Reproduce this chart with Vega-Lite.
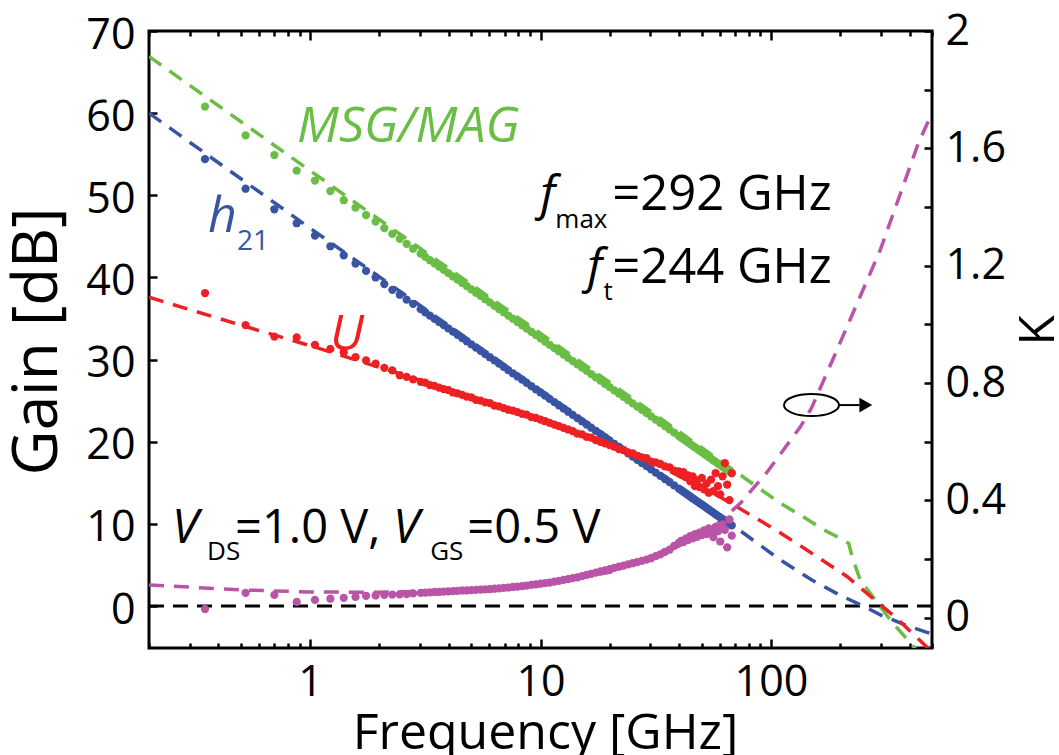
{
  "$schema": "https://vega.github.io/schema/vega-lite/v6.json",
  "width": 783,
  "height": 617,
  "autosize": {"type": "none"},
  "padding": {"left": 149, "top": 31, "right": 127, "bottom": 107},
  "background": "white",
  "config": {
    "view": {"stroke": "black", "strokeWidth": 3},
    "axis": {
      "domain": false, "grid": false,
      "labelFont": "Open Sans", "labelFontSize": 43, "labelColor": "black",
      "tickColor": "black", "tickWidth": 2.5,
      "titleFont": "Open Sans", "titleFontSize": 50, "titleFontWeight": "normal", "titleColor": "black",
      "labelOverlap": false, "labelBound": false, "labelFlush": false
    },
    "text": {"font": "Open Sans"}
  },
  "datasets": {
    "meas": [
      {"f":0.35,"msg":60.8,"h21":54.4,"u":38.1,"k":0.03},
      {"f":0.525,"msg":57.3,"h21":50.8,"u":34.2,"k":0.085},
      {"f":0.7,"msg":54.9,"h21":48.3,"u":32.8,"k":0.078},
      {"f":0.875,"msg":53.0,"h21":46.6,"u":32.7,"k":0.054},
      {"f":1.05,"msg":51.8,"h21":45.1,"u":31.8,"k":0.061},
      {"f":1.225,"msg":50.5,"h21":43.8,"u":31.3,"k":0.065},
      {"f":1.4,"msg":49.4,"h21":42.7,"u":30.9,"k":0.068},
      {"f":1.575,"msg":48.5,"h21":41.7,"u":30.3,"k":0.071},
      {"f":1.75,"msg":47.6,"h21":40.8,"u":29.9,"k":0.075},
      {"f":1.925,"msg":46.8,"h21":40.0,"u":29.5,"k":0.076},
      {"f":2.1,"msg":46.0,"h21":39.2,"u":29.0,"k":0.078},
      {"f":2.275,"msg":45.3,"h21":38.5,"u":28.7,"k":0.079},
      {"f":2.45,"msg":44.7,"h21":37.9,"u":28.1,"k":0.080},
      {"f":2.625,"msg":44.1,"h21":37.3,"u":27.9,"k":0.081},
      {"f":2.8,"msg":43.5,"h21":36.8,"u":27.6,"k":0.083},
      {"f":3.02,"msg":42.9,"h21":36.14,"u":27.3,"k":0.085},
      {"f":3.162,"msg":42.5,"h21":35.75,"u":27.2,"k":0.086},
      {"f":3.311,"msg":42.1,"h21":35.36,"u":26.9,"k":0.087},
      {"f":3.467,"msg":41.71,"h21":34.97,"u":26.8,"k":0.088},
      {"f":3.631,"msg":41.31,"h21":34.58,"u":26.6,"k":0.088},
      {"f":3.802,"msg":40.92,"h21":34.19,"u":26.4,"k":0.089},
      {"f":3.981,"msg":40.52,"h21":33.8,"u":26.3,"k":0.090},
      {"f":4.169,"msg":40.12,"h21":33.41,"u":26.0,"k":0.091},
      {"f":4.365,"msg":39.73,"h21":33.02,"u":25.9,"k":0.092},
      {"f":4.571,"msg":39.33,"h21":32.63,"u":25.7,"k":0.093},
      {"f":4.786,"msg":38.94,"h21":32.24,"u":25.5,"k":0.093},
      {"f":5.012,"msg":38.54,"h21":31.85,"u":25.4,"k":0.094},
      {"f":5.248,"msg":38.14,"h21":31.46,"u":25.1,"k":0.095},
      {"f":5.495,"msg":37.75,"h21":31.07,"u":25.0,"k":0.096},
      {"f":5.754,"msg":37.35,"h21":30.68,"u":24.8,"k":0.097},
      {"f":6.026,"msg":36.96,"h21":30.29,"u":24.7,"k":0.098},
      {"f":6.31,"msg":36.56,"h21":29.9,"u":24.4,"k":0.099},
      {"f":6.607,"msg":36.16,"h21":29.51,"u":24.3,"k":0.100},
      {"f":6.918,"msg":35.77,"h21":29.12,"u":24.1,"k":0.102},
      {"f":7.244,"msg":35.37,"h21":28.73,"u":23.9,"k":0.103},
      {"f":7.586,"msg":34.98,"h21":28.34,"u":23.8,"k":0.105},
      {"f":7.943,"msg":34.58,"h21":27.95,"u":23.6,"k":0.106},
      {"f":8.318,"msg":34.18,"h21":27.56,"u":23.4,"k":0.108},
      {"f":8.71,"msg":33.79,"h21":27.17,"u":23.3,"k":0.110},
      {"f":9.12,"msg":33.39,"h21":26.78,"u":23.0,"k":0.112},
      {"f":9.55,"msg":33.0,"h21":26.39,"u":22.9,"k":0.114},
      {"f":10.0,"msg":32.6,"h21":26.0,"u":22.7,"k":0.116},
      {"f":10.47,"msg":32.2,"h21":25.61,"u":22.5,"k":0.118},
      {"f":10.96,"msg":31.81,"h21":25.22,"u":22.3,"k":0.120},
      {"f":11.48,"msg":31.41,"h21":24.83,"u":22.1,"k":0.123},
      {"f":12.02,"msg":31.02,"h21":24.44,"u":21.9,"k":0.126},
      {"f":12.59,"msg":30.62,"h21":24.05,"u":21.7,"k":0.129},
      {"f":13.18,"msg":30.22,"h21":23.66,"u":21.5,"k":0.132},
      {"f":13.8,"msg":29.83,"h21":23.27,"u":21.3,"k":0.135},
      {"f":14.45,"msg":29.43,"h21":22.88,"u":21.0,"k":0.138},
      {"f":15.14,"msg":29.04,"h21":22.49,"u":20.9,"k":0.142},
      {"f":15.85,"msg":28.64,"h21":22.1,"u":20.6,"k":0.146},
      {"f":16.6,"msg":28.24,"h21":21.71,"u":20.5,"k":0.150},
      {"f":17.38,"msg":27.85,"h21":21.32,"u":20.2,"k":0.154},
      {"f":18.2,"msg":27.45,"h21":20.93,"u":20.0,"k":0.158},
      {"f":19.05,"msg":27.06,"h21":20.54,"u":19.8,"k":0.162},
      {"f":19.95,"msg":26.66,"h21":20.15,"u":19.6,"k":0.166},
      {"f":20.89,"msg":26.26,"h21":19.76,"u":19.4,"k":0.170},
      {"f":21.88,"msg":25.87,"h21":19.37,"u":19.1,"k":0.174},
      {"f":22.91,"msg":25.47,"h21":18.98,"u":19.0,"k":0.178},
      {"f":23.99,"msg":25.08,"h21":18.59,"u":18.7,"k":0.182},
      {"f":25.12,"msg":24.68,"h21":18.2,"u":18.6,"k":0.186},
      {"f":26.3,"msg":24.28,"h21":17.81,"u":18.3,"k":0.190},
      {"f":27.54,"msg":23.89,"h21":17.42,"u":18.1,"k":0.194},
      {"f":28.84,"msg":23.49,"h21":17.03,"u":18.0,"k":0.198},
      {"f":30.2,"msg":23.1,"h21":16.64,"u":17.6,"k":0.203},
      {"f":31.62,"msg":22.7,"h21":16.25,"u":17.5,"k":0.210},
      {"f":33.11,"msg":22.3,"h21":15.86,"u":17.3,"k":0.216},
      {"f":34.67,"msg":21.91,"h21":15.47,"u":17.0,"k":0.225},
      {"f":36.31,"msg":21.51,"h21":15.08,"u":16.9,"k":0.232},
      {"f":38.02,"msg":21.12,"h21":14.69,"u":16.5,"k":0.245},
      {"f":39.81,"msg":20.72,"h21":14.3,"u":16.4,"k":0.255},
      {"f":40.74,"msg":20.52,"h21":14.11,"u":16.0,"k":0.262},
      {"f":41.69,"msg":20.32,"h21":13.91,"u":16.3,"k":0.258},
      {"f":42.66,"msg":20.13,"h21":13.72,"u":15.7,"k":0.270},
      {"f":43.65,"msg":19.93,"h21":13.52,"u":15.9,"k":0.265},
      {"f":44.67,"msg":19.73,"h21":13.33,"u":15.2,"k":0.278},
      {"f":45.71,"msg":19.53,"h21":13.13,"u":15.8,"k":0.271},
      {"f":46.77,"msg":19.33,"h21":12.94,"u":14.6,"k":0.285},
      {"f":47.86,"msg":19.14,"h21":12.74,"u":15.3,"k":0.276},
      {"f":48.98,"msg":18.94,"h21":12.55,"u":14.5,"k":0.290},
      {"f":50.12,"msg":18.74,"h21":12.35,"u":15.6,"k":0.282},
      {"f":51.29,"msg":18.54,"h21":12.16,"u":14.2,"k":0.298},
      {"f":52.48,"msg":18.34,"h21":11.96,"u":14.9,"k":0.285},
      {"f":53.7,"msg":18.15,"h21":11.77,"u":13.8,"k":0.305},
      {"f":54.95,"msg":17.95,"h21":11.57,"u":15.4,"k":0.292},
      {"f":56.23,"msg":17.75,"h21":11.38,"u":14.0,"k":0.275},
      {"f":57.54,"msg":17.55,"h21":11.18,"u":16.2,"k":0.310},
      {"f":58.88,"msg":17.35,"h21":10.99,"u":14.6,"k":0.295},
      {"f":60.26,"msg":17.16,"h21":10.79,"u":13.6,"k":0.260},
      {"f":61.66,"msg":16.96,"h21":10.6,"u":15.8,"k":0.318},
      {"f":63.1,"msg":16.76,"h21":10.4,"u":17.4,"k":0.300},
      {"f":64.57,"msg":16.56,"h21":10.21,"u":14.8,"k":0.240},
      {"f":66.07,"msg":16.36,"h21":10.01,"u":12.9,"k":0.335},
      {"f":67.61,"msg":16.17,"h21":9.82,"u":16.2,"k":0.280}
    ],
    "fitg": [
      {"s":"msg","f":0.2,"g":66.9},{"s":"msg","f":1,"g":53.0},{"s":"msg","f":10,"g":33.2},{"s":"msg","f":50,"g":19.3},{"s":"msg","f":110,"g":12.5},{"s":"msg","f":134,"g":11.1},{"s":"msg","f":169,"g":9.3},{"s":"msg","f":200,"g":8.25},{"s":"msg","f":217.6,"g":7.64},{"s":"msg","f":225.6,"g":5.85},{"s":"msg","f":244.4,"g":3.17},{"s":"msg","f":329.8,"g":-1.7},{"s":"msg","f":402.9,"g":-4.5},{"s":"msg","f":427.8,"g":-5.36},
      {"s":"h21","f":0.2,"g":60},{"s":"h21","f":1,"g":46.0},{"s":"h21","f":10,"g":26.3},{"s":"h21","f":50,"g":12.7},{"s":"h21","f":75.9,"g":8.9},{"s":"h21","f":110,"g":5.6},{"s":"h21","f":150,"g":3.2},{"s":"h21","f":200,"g":1.3},{"s":"h21","f":252,"g":0},{"s":"h21","f":300,"g":-1.1},{"s":"h21","f":400,"g":-2.5},{"s":"h21","f":500,"g":-3.4},
      {"s":"u","f":0.2,"g":37.6},{"s":"u","f":0.5,"g":34.2},{"s":"u","f":1,"g":31.7},{"s":"u","f":3,"g":27.5},{"s":"u","f":10,"g":22.8},{"s":"u","f":30,"g":17.6},{"s":"u","f":60,"g":13.3},{"s":"u","f":85,"g":10.8},{"s":"u","f":110,"g":8.9},{"s":"u","f":153,"g":6.3},{"s":"u","f":214,"g":3.6},{"s":"u","f":292,"g":0.4},{"s":"u","f":352,"g":-1.5},{"s":"u","f":476,"g":-5.0},{"s":"u","f":500,"g":-5.5}
    ],
    "fitk": [
      {"f":0.2,"k":0.112},{"f":0.5,"k":0.095},{"f":1,"k":0.088},{"f":2,"k":0.087},{"f":5,"k":0.095},{"f":10,"k":0.115},{"f":20,"k":0.155},{"f":40,"k":0.245},{"f":58.5,"k":0.32},{"f":73.6,"k":0.39},{"f":96.4,"k":0.497},{"f":134,"k":0.65},{"f":150,"k":0.715},{"f":185,"k":0.878},{"f":298,"k":1.253},{"f":436,"k":1.617},{"f":500,"k":1.72}
    ],
    "zero": [{"f":0.2,"g":0},{"f":500,"g":0}],
    "labBig": [
      {"t":"MSG/MAG","f":0.878,"g":56.5,"s":"msg"},
      {"t":"h","f":0.3605,"g":45.5,"s":"h21"},
      {"t":"U","f":1.221,"g":31.2,"s":"u"}
    ],
    "labSubCol": [{"t":"21","f":0.4817,"g":43.4,"s":"h21"}],
    "labIt": [
      {"t":"f","f":9.97,"g":48.2},
      {"t":"f","f":15.94,"g":39.3},
      {"t":"V","f":0.2515,"g":7.67},
      {"t":"V","f":2.293,"g":7.67}
    ],
    "labSub": [
      {"t":"max","f":11.6,"g":46.0},
      {"t":"t","f":18.75,"g":37.3},
      {"t":"DS","f":0.3571,"g":5.6},
      {"t":"GS","f":3.32,"g":5.6}
    ],
    "labFreq": [
      {"t":"=292 GHz","f":20.47,"g":48.2},
      {"t":"=244 GHz","f":20.47,"g":39.3}
    ],
    "labBias": [
      {"t":"=1.0 V,","f":0.4725,"g":7.67},
      {"t":"=0.5 V","f":4.81,"g":7.67}
    ],
    "ell": [{"f":150,"k":0.725}],
    "arr": [{"f":196,"f2":242,"k":0.725}],
    "head": [{"f":258,"k":0.725}]
  },
  "encoding": {
    "x": {"field": "f", "type": "quantitative", "scale": {"type": "log", "domain": [0.2, 500], "nice": false}, "axis": null}
  },
  "layer": [
    {
      "data": {"name": "zero"},
      "mark": {"type": "line", "color": "black", "strokeWidth": 3, "strokeDash": [15, 9], "clip": true},
      "encoding": {
        "y": {"field": "g", "type": "quantitative", "scale": {"domain": [-5.1, 70], "nice": false, "zero": false},
          "axis": {"orient": "left", "values": [0,10,20,30,40,50,60,70], "tickSize": -8, "labelPadding": 22, "labelOffset": 4,
            "title": "Gain [dB]", "titleFontSize": 62, "titleAngle": 270, "titleX": -93, "titleY": 310, "titleBaseline": "alphabetic", "titleAlign": "center"}}
      }
    },
    {
      "data": {"name": "fitg"},
      "mark": {"type": "line", "strokeWidth": 3.5, "strokeDash": [15, 10], "clip": true},
      "encoding": {
        "y": {"field": "g", "type": "quantitative", "scale": {"domain": [-5.1, 70], "nice": false, "zero": false}, "axis": null},
        "color": {"field": "s", "type": "nominal", "scale": {"domain": ["msg", "h21", "u"], "range": ["#6ABD45", "#3A54A4", "#EE2024"]}, "legend": null}
      }
    },
    {
      "data": {"name": "fitk"},
      "mark": {"type": "line", "strokeWidth": 3.5, "strokeDash": [15, 10], "color": "#B954A6", "clip": true},
      "encoding": {
        "y": {"field": "k", "type": "quantitative", "scale": {"domain": [-0.103, 2], "nice": false, "zero": false}, "axis": null}
      }
    },
    {
      "data": {"name": "meas"},
      "mark": {"type": "circle", "size": 68, "opacity": 1, "color": "#6ABD45"},
      "encoding": {
        "x": {"field": "f", "type": "quantitative", "scale": {"type": "log", "domain": [0.2, 500], "nice": false},
          "axis": {"orient": "bottom",
            "values": [0.2,0.3,0.4,0.5,0.6,0.7,0.8,0.9,1,2,3,4,5,6,7,8,9,10,20,30,40,50,60,70,80,90,100,200,300,400,500],
            "format": "~g",
            "labelExpr": "(datum.value == 1 || datum.value == 10 || datum.value == 100) ? datum.label : ''",
            "tickSize": {"condition": {"test": "datum.value == 1 || datum.value == 10 || datum.value == 100", "value": -9}, "value": -5},
            "labelPadding": 22, "labelBaseline": "top",
            "title": "Frequency [GHz]", "titleX": 396, "titleY": 100, "titleBaseline": "alphabetic"}},
        "y": {"field": "msg", "type": "quantitative", "scale": {"domain": [-5.1, 70], "nice": false, "zero": false}, "axis": null}
      }
    },
    {
      "data": {"name": "meas"},
      "mark": {"type": "circle", "size": 68, "opacity": 1, "color": "#3A54A4"},
      "encoding": {
        "x": {"field": "f", "type": "quantitative", "scale": {"type": "log", "domain": [0.2, 500], "nice": false},
          "axis": {"orient": "top",
            "values": [0.2,0.3,0.4,0.5,0.6,0.7,0.8,0.9,1,2,3,4,5,6,7,8,9,10,20,30,40,50,60,70,80,90,100,200,300,400,500],
            "labels": false, "title": null,
            "tickSize": {"condition": {"test": "datum.value == 1 || datum.value == 10 || datum.value == 100", "value": -9}, "value": -5}}},
        "y": {"field": "h21", "type": "quantitative", "scale": {"domain": [-5.1, 70], "nice": false, "zero": false}, "axis": null}
      }
    },
    {
      "data": {"name": "meas"},
      "mark": {"type": "circle", "size": 68, "opacity": 1, "color": "#EE2024"},
      "encoding": {
        "y": {"field": "u", "type": "quantitative", "scale": {"domain": [-5.1, 70], "nice": false, "zero": false}, "axis": null}
      }
    },
    {
      "data": {"name": "meas"},
      "mark": {"type": "circle", "size": 68, "opacity": 1, "color": "#B954A6"},
      "encoding": {
        "y": {"field": "k", "type": "quantitative", "scale": {"domain": [-0.103, 2], "nice": false, "zero": false},
          "axis": {"orient": "right", "values": [0,0.2,0.4,0.6,0.8,1,1.2,1.4,1.6,1.8,2], "format": ".1~f",
            "labelExpr": "round(datum.value * 10) % 4 == 0 ? datum.label : ''",
            "tickSize": -8, "labelPadding": 21,
            "title": "K", "titleAngle": 270, "titleX": 121, "titleY": 299, "titleBaseline": "alphabetic", "titleAlign": "center"}}
      }
    },
    {
      "data": {"name": "labBig"},
      "mark": {"type": "text", "fontSize": 50, "fontStyle": "italic", "align": "left", "baseline": "alphabetic"},
      "encoding": {
        "y": {"field": "g", "type": "quantitative", "scale": {"domain": [-5.1, 70], "nice": false, "zero": false}, "axis": null},
        "text": {"field": "t"},
        "color": {"field": "s", "type": "nominal", "scale": {"domain": ["msg", "h21", "u"], "range": ["#6ABD45", "#3A54A4", "#EE2024"]}, "legend": null}
      }
    },
    {
      "data": {"name": "labSubCol"},
      "mark": {"type": "text", "fontSize": 28, "align": "left", "baseline": "alphabetic", "color": "#3A54A4"},
      "encoding": {
        "y": {"field": "g", "type": "quantitative", "scale": {"domain": [-5.1, 70], "nice": false, "zero": false}, "axis": null},
        "text": {"field": "t"}
      }
    },
    {
      "data": {"name": "labIt"},
      "mark": {"type": "text", "fontSize": 48, "fontStyle": "italic", "align": "left", "baseline": "alphabetic", "color": "black"},
      "encoding": {
        "y": {"field": "g", "type": "quantitative", "scale": {"domain": [-5.1, 70], "nice": false, "zero": false}, "axis": null},
        "text": {"field": "t"}
      }
    },
    {
      "data": {"name": "labSub"},
      "mark": {"type": "text", "fontSize": 26, "align": "left", "baseline": "alphabetic", "color": "black"},
      "encoding": {
        "y": {"field": "g", "type": "quantitative", "scale": {"domain": [-5.1, 70], "nice": false, "zero": false}, "axis": null},
        "text": {"field": "t"}
      }
    },
    {
      "data": {"name": "labFreq"},
      "mark": {"type": "text", "fontSize": 49, "align": "left", "baseline": "alphabetic", "color": "black"},
      "encoding": {
        "y": {"field": "g", "type": "quantitative", "scale": {"domain": [-5.1, 70], "nice": false, "zero": false}, "axis": null},
        "text": {"field": "t"}
      }
    },
    {
      "data": {"name": "labBias"},
      "mark": {"type": "text", "fontSize": 47, "align": "left", "baseline": "alphabetic", "color": "black"},
      "encoding": {
        "y": {"field": "g", "type": "quantitative", "scale": {"domain": [-5.1, 70], "nice": false, "zero": false}, "axis": null},
        "text": {"field": "t"}
      }
    },
    {
      "data": {"name": "ell"},
      "mark": {"type": "point", "shape": "M -1 0 A 1 0.4 0 1 1 1 0 A 1 0.4 0 1 1 -1 0 Z", "size": 3025, "filled": false, "color": "black", "strokeWidth": 2, "opacity": 1},
      "encoding": {
        "y": {"field": "k", "type": "quantitative", "scale": {"domain": [-0.103, 2], "nice": false, "zero": false}, "axis": null}
      }
    },
    {
      "data": {"name": "arr"},
      "mark": {"type": "rule", "color": "black", "strokeWidth": 2},
      "encoding": {
        "x": {"field": "f", "type": "quantitative", "scale": {"type": "log", "domain": [0.2, 500], "nice": false}, "axis": null},
        "x2": {"field": "f2"},
        "y": {"field": "k", "type": "quantitative", "scale": {"domain": [-0.103, 2], "nice": false, "zero": false}, "axis": null}
      }
    },
    {
      "data": {"name": "head"},
      "mark": {"type": "point", "shape": "triangle-right", "size": 220, "filled": true, "color": "black", "opacity": 1},
      "encoding": {
        "y": {"field": "k", "type": "quantitative", "scale": {"domain": [-0.103, 2], "nice": false, "zero": false}, "axis": null}
      }
    }
  ],
  "resolve": {"scale": {"y": "independent"}, "axis": {"x": "independent", "y": "independent"}}
}
